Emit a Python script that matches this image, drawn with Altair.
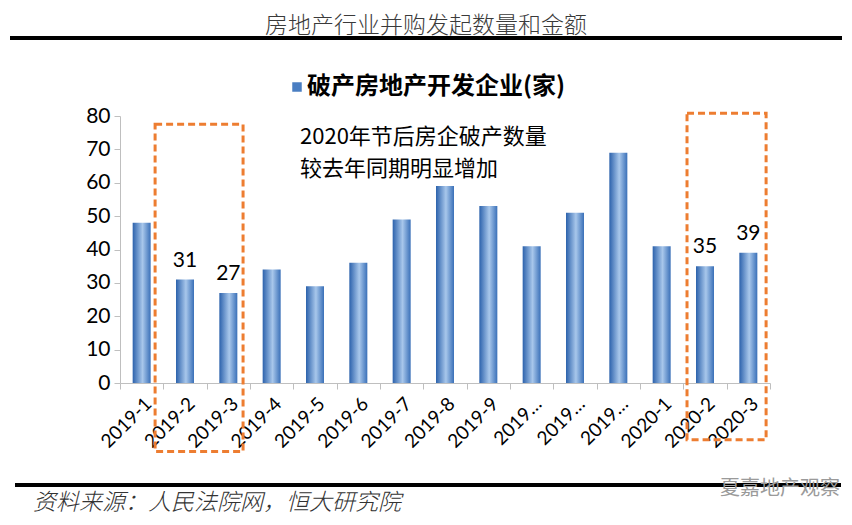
import altair as alt
import pandas as pd

months = ["2019-1", "2019-2", "2019-3", "2019-4", "2019-5", "2019-6", "2019-7",
          "2019-8", "2019-9", "2019-10", "2019-11", "2019-12", "2020-1", "2020-2", "2020-3"]
counts = [48, 31, 27, 34, 29, 36, 49, 59, 53, 41, 51, 69, 41, 35, 39]
labeled = ["2019-2", "2019-3", "2020-2", "2020-3"]
y_ticks = [0, 10, 20, 30, 40, 50, 60, 70, 80]

series_name = "破产房地产开发企业(家)"
title_text = "房地产行业并购发起数量和金额"
note_lines = ["2020年节后房企破产数量", "较去年同期明显增加"]
source_text = "资料来源：人民法院网，恒大研究院"
watermark_text = "夏嘉地产观察"

box1 = {"start": "2019-1", "end": "2019-3", "top": 77.5, "bottom": -20.5}
box2 = {"start": "2020-2", "end": "2020-3", "top": 80.8, "bottom": -17.0}

df = pd.DataFrame({"month": months, "count": counts})
df["label"] = [str(c) if m in labeled else "" for m, c in zip(months, counts)]

W, H = 650, 267
NUM_FONT = "Lato"
CJK = "Noto Sans CJK SC"

gradient = alt.Gradient(
    gradient="linear",
    stops=[alt.GradientStop(color="#2C62AC", offset=0),
           alt.GradientStop(color="#A8C7EB", offset=0.55),
           alt.GradientStop(color="#3A70B8", offset=1)],
    x1=0, x2=1, y1=0, y2=0,
)

xscale = alt.Scale(domain=months, paddingInner=0, paddingOuter=0)
yscale = alt.Scale(domain=[0, 80], nice=False)

x_axis = alt.Axis(labelAngle=-45, labelFont=NUM_FONT, labelFontSize=19,
                  labelColor="#000000", domainColor="#BFBFBF", tickColor="#BFBFBF",
                  tickSize=6, tickBand="extent", labelPadding=5, labelOverlap=False,
                  labelExpr="isString(datum.value) && length(datum.value) > 6 ? slice(datum.value, 0, 4) + '…' : datum.label")
y_axis = alt.Axis(values=y_ticks, labelFont=NUM_FONT, labelFontSize=21,
                  labelColor="#000000", domainColor="#BFBFBF", tickColor="#BFBFBF",
                  tickSize=6, grid=False, labelPadding=4, labelOverlap=False)

bars = alt.Chart(df).mark_bar(color=gradient, size=18).encode(
    x=alt.X("month:N", sort=months, title=None, scale=xscale, axis=x_axis),
    y=alt.Y("count:Q", title=None, scale=yscale, axis=y_axis),
)

labels = alt.Chart(df).mark_text(font=NUM_FONT, fontSize=21, color="#000000",
                                 baseline="bottom", dy=-9).encode(
    x=alt.X("month:N", sort=months, title=None, scale=xscale, axis=x_axis),
    y=alt.Y("count:Q", title=None, scale=yscale, axis=y_axis),
    text="label:N",
)


def box_chart(b, bp_start, bp_end):
    d = pd.DataFrame([b])
    return alt.Chart(d).mark_rect(fillOpacity=0, stroke="#ED7D31", strokeWidth=3,
                                  strokeDash=[7, 4]).encode(
        x=alt.X("start:N", sort=months, bandPosition=bp_start, title=None, scale=xscale, axis=x_axis),
        x2=alt.X2("end:N", bandPosition=bp_end),
        y=alt.Y("top:Q", title=None, scale=yscale, axis=y_axis),
        y2=alt.Y2("bottom:Q"),
    )


box_layer1 = box_chart(box1, 0.81, 0.84)
box_layer2 = box_chart(box2, 0.085, 0.91)

anno = pd.DataFrame({"k": [0]})

title_mark = alt.Chart(anno).mark_text(text=title_text, font=CJK, fontSize=23, color="#3A3A3A",
                                       fontWeight=300, align="center", baseline="middle").encode(
    x=alt.value(306), y=alt.value(-90))
top_rule = alt.Chart(anno).mark_rule(color="#000000", strokeWidth=4).encode(
    x=alt.value(-110), x2=alt.value(722), y=alt.value(-78))
legend_sym = alt.Chart(anno).mark_point(shape="square", filled=True, size=90, color="#4A7EC2",
                                        opacity=1).encode(x=alt.value(177), y=alt.value(-29))
legend_txt = alt.Chart(anno).mark_text(text=series_name, font=CJK, fontSize=24, fontWeight="bold",
                                       color="#000000", align="left", baseline="middle").encode(
    x=alt.value(187), y=alt.value(-29))
note1 = alt.Chart(anno).mark_text(text=note_lines[0], font=CJK, fontSize=22, color="#000000",
                                  align="left", baseline="middle").encode(
    x=alt.value(180), y=alt.value(21))
note2 = alt.Chart(anno).mark_text(text=note_lines[1], font=CJK, fontSize=22, color="#000000",
                                  align="left", baseline="middle").encode(
    x=alt.value(180), y=alt.value(53))
bottom_rule = alt.Chart(anno).mark_rule(color="#000000", strokeWidth=4).encode(
    x=alt.value(-105), x2=alt.value(721), y=alt.value(369))
source_mark = alt.Chart(anno).mark_text(text=source_text, font=CJK, fontSize=23, fontStyle="italic",
                                        fontWeight=300, color="#333333", align="left",
                                        baseline="middle").encode(
    x=alt.value(-87), y=alt.value(387))
wm_mark = alt.Chart(anno).mark_text(text=watermark_text, font=CJK, fontSize=20, color="#9A9A9A",
                                    align="left", baseline="middle").encode(
    x=alt.value(600), y=alt.value(373))

chart = alt.layer(
    bars, labels, box_layer1, box_layer2, title_mark, top_rule, legend_sym, legend_txt,
    note1, note2, bottom_rule, source_mark, wm_mark
).properties(
    width=W, height=H,
    autosize=alt.AutoSizeParams(type="none"),
    padding={"left": 112, "top": 108, "right": 74, "bottom": 134},
).configure(background="#FFFFFF").configure_view(stroke=None)

chart.save("out.html", embed_options={"renderer": "svg", "actions": False})
